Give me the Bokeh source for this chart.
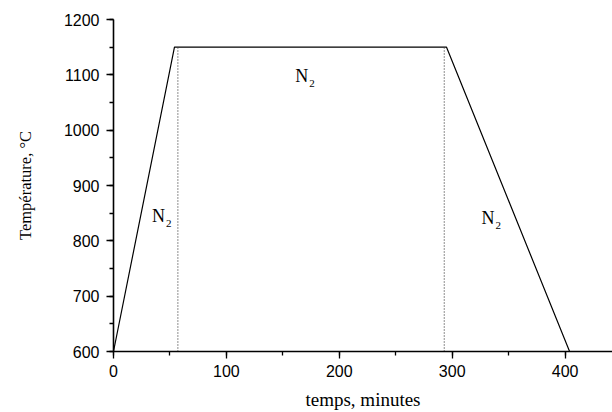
from bokeh.plotting import figure
from bokeh.models import Range1d, SingleIntervalTicker, ColumnDataSource
from bokeh.core.properties import value
from bokeh.embed import file_html
from bokeh.resources import INLINE

# profile data
time_min = [0, 54, 295, 404]
temp_c = [600, 1150, 1150, 600]

# dotted markers
mark_x = [57, 293]
mark_y0 = [600, 600]
mark_y1 = [1150, 1150]

# annotations
label_x = [34, 161, 326]
label_y = [845, 1098, 842]
label_main = ["N", "N", "N"]
label_sub = ["2", "2", "2"]

p = figure(width=612, height=412, output_backend="svg", toolbar_location=None,
           x_range=Range1d(0, 442), y_range=Range1d(600, 1200),
           min_border_left=113, min_border_right=0, min_border_top=19, min_border_bottom=61)
p.outline_line_color = None
p.xgrid.visible = False
p.ygrid.visible = False
p.background_fill_color = "white"
p.border_fill_color = "white"

p.line(time_min, temp_c, line_color="black", line_width=1.2)
p.segment(x0=mark_x, y0=mark_y0, x1=mark_x, y1=mark_y1, line_color="#444444",
          line_width=1.2, line_dash="1 2")

src = ColumnDataSource(dict(x=label_x, y=label_y, m=label_main, s=label_sub))
p.text(x="x", y="y", text="m", source=src, text_font=value("Liberation Serif"),
       text_font_size="18px", text_color="black", text_baseline="middle", text_align="left")
p.text(x="x", y="y", text="s", source=src, text_font=value("Liberation Serif"),
       text_font_size="11px", text_color="black", text_baseline="middle", text_align="left",
       x_offset=14, y_offset=8)

for ax in (p.xaxis[0], p.yaxis[0]):
    ax.ticker = SingleIntervalTicker(interval=100, num_minor_ticks=2)
    ax.axis_line_width = 1.6
    ax.axis_line_color = "black"
    ax.major_tick_line_color = "black"
    ax.minor_tick_line_color = "black"
    ax.major_tick_line_width = 1.3
    ax.minor_tick_line_width = 1.3
    ax.major_tick_in = 0
    ax.major_tick_out = 7
    ax.minor_tick_in = 0
    ax.minor_tick_out = 4
    ax.major_label_text_font = "Liberation Sans"
    ax.major_label_text_font_size = "16px"
    ax.major_label_text_color = "black"
    ax.axis_label_text_font = "Liberation Serif"
    ax.axis_label_text_font_style = "normal"
    ax.axis_label_text_color = "black"

p.xaxis.axis_label = "temps, minutes"
p.xaxis.axis_label_text_font_size = "19px"
p.xaxis.major_label_standoff = 6
p.xaxis.axis_label_standoff = 9

p.yaxis.axis_label = "Température, °C"
p.yaxis.axis_label_text_font_size = "16.5px"
p.yaxis.major_label_standoff = 7
p.yaxis.axis_label_standoff = 26

open("out.html", "w").write(file_html(p, INLINE))
